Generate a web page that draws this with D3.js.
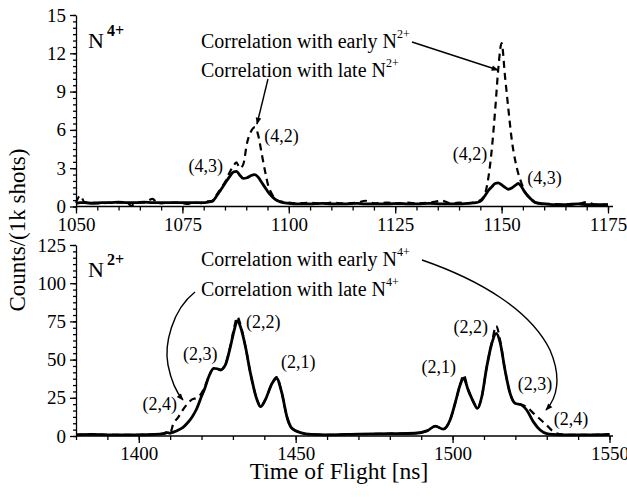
<!DOCTYPE html>
<html>
<head>
<meta charset="utf-8">
<script src="https://cdn.jsdelivr.net/npm/d3@7/dist/d3.min.js"></script>
<style>
  html, body { margin: 0; padding: 0; background: #fff; }
  svg { display: block; font-family: "Liberation Serif", serif; }
</style>
</head>
<body>
<svg id="chart" width="627" height="497"></svg>
<script>
// ---- N4+ spectrum (upper panel) ----
const topTime = [1050, 1051, 1052, 1054, 1056, 1058, 1060, 1062, 1063, 1064, 1066, 1068, 1069, 1070, 1072, 1074, 1076, 1078, 1080, 1081, 1082, 1083, 1084, 1085, 1086, 1087, 1087.7, 1088.5, 1089.3, 1090.2, 1091, 1092, 1092.8, 1093.6, 1094.4, 1095.2, 1096, 1096.8, 1098, 1100, 1102, 1105, 1108, 1110, 1113, 1116, 1118, 1120, 1123, 1126, 1128, 1130, 1133, 1136, 1138, 1140, 1142, 1144, 1145, 1146, 1147, 1147.7, 1148.5, 1149.2, 1150, 1150.8, 1151.6, 1152.4, 1153.2, 1153.9, 1154.6, 1155.3, 1156, 1157, 1158, 1160, 1162, 1165, 1168, 1170, 1172, 1175];
const topLate  = [0.25, 0.3, 0.3, 0.25, 0.3, 0.3, 0.35, 0.3, 0.3, 0.3, 0.35, 0.3, 0.3, 0.3, 0.3, 0.3, 0.3, 0.3, 0.3, 0.35, 0.4, 0.8, 1.3, 1.8, 2.3, 2.7, 2.75, 2.45, 2.2, 2.25, 2.4, 2.5, 2.3, 1.9, 1.5, 1.1, 0.8, 0.55, 0.35, 0.25, 0.2, 0.2, 0.25, 0.2, 0.2, 0.25, 0.2, 0.2, 0.2, 0.25, 0.2, 0.2, 0.25, 0.2, 0.2, 0.2, 0.25, 0.3, 0.4, 0.8, 1.3, 1.55, 1.8, 1.85, 1.7, 1.5, 1.35, 1.45, 1.65, 1.8, 1.6, 1.2, 0.9, 0.55, 0.3, 0.2, 0.15, 0.15, 0.2, 0.15, 0.15, 0.15];
const topEarly = [0.3, 0.85, 0.35, 0.3, 0.25, 0.3, 0.3, 0.3, 0.05, 0.3, 0.3, 0.6, 0.3, 0.25, 0.3, 0.3, 0.2, 0.3, 0.25, 0.4, 0.45, 0.9, 1.4, 1.9, 2.6, 3.2, 3.45, 3.0, 3.3, 5.0, 5.8, 6.2, 5.6, 4.2, 2.8, 1.6, 1.0, 0.6, 0.4, 0.3, 0.25, 0.3, 0.2, 0.3, 0.25, 0.3, 0.45, 0.25, 0.3, 0.2, 0.3, 0.25, 0.3, 0.45, 0.25, 0.3, 0.25, 0.35, 0.5, 0.9, 2.5, 4.5, 7.6, 10.7, 12.8, 10.2, 7.6, 5.2, 3.6, 2.6, 1.9, 1.3, 0.9, 0.55, 0.3, 0.2, 0.2, 0.15, 0.2, 0.35, 0.15, 0.15];
const topXTicks = [1050, 1075, 1100, 1125, 1150, 1175];
const topYTicks = [0, 3, 6, 9, 12, 15];

// ---- N2+ spectrum (lower panel) ----
const botTime = [1380, 1385, 1390, 1395, 1400, 1405, 1408, 1409, 1410, 1411, 1412.5, 1414, 1415.5, 1417, 1418.5, 1420, 1421, 1422.3, 1423.9, 1425, 1426, 1427.6, 1429.2, 1430.5, 1431.4, 1432.4, 1434, 1435.6, 1437.7, 1438.8, 1440.3, 1442.5, 1443.9, 1445.6, 1447.2, 1448.8, 1451.5, 1455, 1460, 1470, 1480, 1488, 1492, 1494.5, 1497, 1499.2, 1500.8, 1502.4, 1503.5, 1505, 1506.6, 1507.9, 1509.3, 1510.9, 1512.5, 1513.9, 1515.2, 1516.7, 1518.3, 1519.9, 1522, 1523.6, 1525.7, 1527.9, 1530, 1532, 1535, 1540, 1545, 1550];
const botLate  = [0.8, 1.0, 0.8, 0.7, 0.8, 1.0, 1.5, 2.2, 1.8, 2.5, 3.8, 5.5, 8.5, 12.5, 18, 26, 31, 38.8, 44.3, 44, 43.2, 46.5, 58.4, 70, 75.5, 71.5, 58.4, 41, 23.6, 19.2, 23.6, 34.5, 37.8, 28, 12.6, 5, 2.2, 1.0, 0.8, 1.2, 1.5, 1.8, 3.5, 6.5, 4.5, 10.5, 21.4, 33.4, 37.8, 30, 22.5, 18.1, 25.7, 45.4, 60.7, 67.2, 60.7, 43.2, 28, 21.4, 20.3, 17, 9.4, 3.9, 1.5, 1.0, 0.8, 0.7, 0.8, 1.0];
const botEarly = [0.8, 1.0, 0.8, 0.7, 0.8, 1.0, 1.8, 2.5, 2.0, 8, 12, 17, 21, 24, 25, 28, 32, 38.8, 44.3, 44, 43.2, 47, 59, 72, 78, 73, 58.4, 41, 23.6, 19.2, 23.6, 34.5, 38.5, 28, 12.6, 5, 2.2, 1.0, 0.8, 1.2, 1.5, 1.8, 3.5, 6.5, 4.5, 10.5, 21.4, 33.4, 40, 30, 22.5, 18.1, 25.7, 45.4, 61, 72, 62, 43.2, 28, 21.4, 20.5, 19, 15, 11, 7, 3, 1, 0.7, 0.8, 1.0];
const botXTicks = [1400, 1450, 1500, 1550];
const botYTicks = [0, 25, 50, 75, 100, 125];

// peak assignment labels: [time, value at baseline, text]
const topPeakLabels = [[1080.5, 2.7, "(4,3)"], [1098.3, 5.05, "(4,2)"], [1142.6, 3.65, "(4,2)"], [1160.1, 1.76, "(4,3)"]];
const botPeakLabels = [[1406.7, 17, "(2,4)"], [1419.6, 49.7, "(2,3)"], [1439.7, 70.7, "(2,2)"], [1450.8, 44.5, "(2,1)"], [1495.6, 41.2, "(2,1)"], [1505.8, 67.4, "(2,2)"], [1526.3, 30.1, "(2,3)"], [1537.7, 7.2, "(2,4)"]];

const svg = d3.select("#chart");
const FONT = "Liberation Serif, serif";

svg.append("defs").append("marker")
  .attr("id", "head").attr("viewBox", "0 0 10 10")
  .attr("refX", 9).attr("refY", 5)
  .attr("markerWidth", 10).attr("markerHeight", 7)
  .attr("markerUnits", "userSpaceOnUse")
  .attr("orient", "auto")
  .append("path").attr("d", "M0,1 L10,5 L0,9 Z").attr("fill", "#000");

function panel(opt) {
  const x = d3.scaleLinear().domain(opt.xDomain).range([76, opt.xEnd]);
  const y = d3.scaleLinear().domain(opt.yDomain).range([opt.y0, opt.y1]);
  const g = svg.append("g");

  // minor ticks
  const xMinor = d3.range(opt.xDomain[0], opt.xDomain[1] + 0.001, opt.xMinorStep);
  g.append("g").attr("transform", `translate(0,${opt.y0})`)
    .call(d3.axisBottom(x).tickValues(xMinor).tickSize(4).tickFormat(""))
    .call(s => s.select(".domain").remove());
  const yMinor = d3.range(0, opt.yDomain[1] + 0.001, opt.yMinorStep);
  g.append("g").attr("transform", "translate(76,0)")
    .call(d3.axisLeft(y).tickValues(yMinor).tickSize(3).tickFormat(""))
    .call(s => s.select(".domain").remove());

  // major axes
  const xa = g.append("g").attr("transform", `translate(0,${opt.y0})`)
    .call(d3.axisBottom(x).tickValues(opt.xTicks).tickSize(7).tickSizeOuter(0).tickPadding(4).tickFormat(d3.format("d")));
  xa.select(".domain").attr("d", `M76,0H${opt.axisEnd}`);
  const ya = g.append("g").attr("transform", "translate(76,0)")
    .call(d3.axisLeft(y).tickValues(opt.yTicks).tickSize(6).tickSizeOuter(0).tickPadding(4));
  [xa, ya].forEach(a => {
    a.attr("font-family", FONT);
    a.selectAll("text").attr("font-family", FONT).attr("font-size", 19).attr("fill", "#000");
  });
  g.selectAll("line, .domain").attr("stroke", "#000").attr("stroke-width", 1.3);

  const line = d3.line().x(d => x(d[0])).y(d => y(d[1])).curve(d3.curveMonotoneX);
  const early = opt.time.map((t, i) => [t, opt.early[i]]);
  const late = opt.time.map((t, i) => [t, opt.late[i]]);
  g.append("path").attr("d", line(early)).attr("fill", "none")
    .attr("stroke", "#000").attr("stroke-width", 2.2).attr("stroke-dasharray", "7,5");
  g.append("path").attr("d", line(late)).attr("fill", "none")
    .attr("stroke", "#000").attr("stroke-width", 2.8).attr("stroke-linejoin", "round");

  g.selectAll("text.peak").data(opt.peaks).join("text").attr("class", "peak")
    .attr("x", d => x(d[0])).attr("y", d => y(d[1]))
    .attr("text-anchor", "middle")
    .attr("font-family", FONT).attr("font-size", 18).text(d => d[2]);

  // ion label
  const ion = g.append("text").attr("x", 88).attr("y", opt.ionY)
    .attr("font-family", FONT).attr("font-size", 22);
  ion.append("tspan").text("N");
  ion.append("tspan").attr("dy", -12).attr("dx", 3).attr("font-size", 16).attr("font-weight", "bold").text(opt.ionCharge);

  // correlation notes
  opt.notes.forEach((n, i) => {
    const t = g.append("text").attr("x", 201).attr("y", opt.noteY[i])
      .attr("font-family", FONT).attr("font-size", 20);
    t.append("tspan").text(n + " N");
    t.append("tspan").attr("dy", -10).attr("font-size", 12).text(opt.noteCharge);
  });
  return g;
}

panel({
  xDomain: [1050, 1175], xEnd: 608, axisEnd: 613, xTicks: topXTicks, xMinorStep: 5,
  yDomain: [0, 15], y0: 206.5, y1: 15, yTicks: topYTicks, yMinorStep: 0.5,
  time: topTime, late: topLate, early: topEarly, peaks: topPeakLabels,
  ionY: 48, ionCharge: "4+",
  notes: ["Correlation with early", "Correlation with late"], noteY: [48, 77], noteCharge: "2+"
});

panel({
  xDomain: [1380, 1550], xEnd: 609.5, axisEnd: 613, xTicks: botXTicks, xMinorStep: 10,
  yDomain: [0, 125], y0: 436, y1: 245, yTicks: botYTicks, yMinorStep: 125 / 30,
  time: botTime, late: botLate, early: botEarly, peaks: botPeakLabels,
  ionY: 277, ionCharge: "2+",
  notes: ["Correlation with early", "Correlation with late"], noteY: [266, 296], noteCharge: "4+"
});

// arrows from notes to peaks
const arrows = [
  "M268,79 L257,124",
  "M412,42 L498,70",
  "M195,292 C172,310 164,345 168,365 C171,380 176,392 183,400",
  "M422,260 C480,280 530,310 550,350 C562,378 557,398 546,410"
];
svg.selectAll("path.arrow").data(arrows).join("path").attr("class", "arrow")
  .attr("d", d => d).attr("fill", "none").attr("stroke", "#000")
  .attr("stroke-width", 1.4).attr("marker-end", "url(#head)");

// axis titles
svg.append("text").attr("transform", "translate(25,230) rotate(-90)")
  .attr("text-anchor", "middle").attr("font-family", FONT).attr("font-size", 23)
  .text("Counts/(1k shots)");
svg.append("text").attr("x", 339).attr("y", 479)
  .attr("text-anchor", "middle").attr("font-family", FONT).attr("font-size", 23.5)
  .text("Time of Flight [ns]");
</script>
</body>
</html>
